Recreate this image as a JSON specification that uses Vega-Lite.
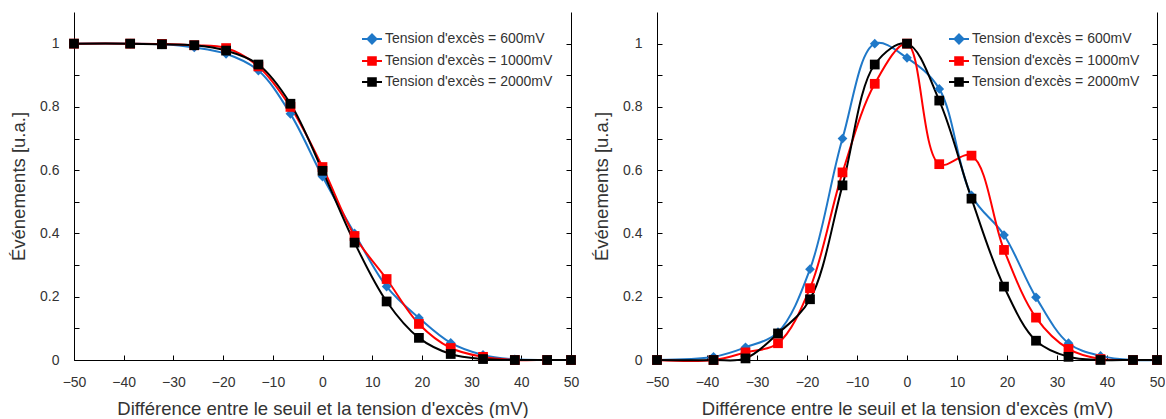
{
  "$schema": "https://vega.github.io/schema/vega-lite/v6.json",
  "padding": {"left": 9, "top": 12, "right": 0, "bottom": 0},
  "background": "white",
  "spacing": 13,
  "config": {
    "view": {"stroke": null},
    "font": "Liberation Sans",
    "axis": {"domainColor": "#000", "tickColor": "#000", "labelColor": "#333", "titleColor": "#333", "labelFontSize": 14, "titleFontSize": 18.5, "titleFontWeight": "normal", "grid": false, "domainWidth": 1, "tickWidth": 1},
    "legend": {"labelLimit": 400}
  },
  "datasets": {
    "left": [
      {"x": -50, "y": 1, "s": "Tension d'excès = 600mV"},
      {"x": -38.7, "y": 1, "s": "Tension d'excès = 600mV"},
      {"x": -32.3, "y": 0.998, "s": "Tension d'excès = 600mV"},
      {"x": -25.8, "y": 0.988, "s": "Tension d'excès = 600mV"},
      {"x": -19.4, "y": 0.968, "s": "Tension d'excès = 600mV"},
      {"x": -12.9, "y": 0.915, "s": "Tension d'excès = 600mV"},
      {"x": -6.45, "y": 0.778, "s": "Tension d'excès = 600mV"},
      {"x": 0, "y": 0.58, "s": "Tension d'excès = 600mV"},
      {"x": 6.45, "y": 0.40, "s": "Tension d'excès = 600mV"},
      {"x": 12.9, "y": 0.232, "s": "Tension d'excès = 600mV"},
      {"x": 19.4, "y": 0.133, "s": "Tension d'excès = 600mV"},
      {"x": 25.8, "y": 0.054, "s": "Tension d'excès = 600mV"},
      {"x": 32.3, "y": 0.016, "s": "Tension d'excès = 600mV"},
      {"x": 38.7, "y": 0.002, "s": "Tension d'excès = 600mV"},
      {"x": 45.2, "y": 0, "s": "Tension d'excès = 600mV"},
      {"x": 50, "y": 0, "s": "Tension d'excès = 600mV"},
      {"x": -50, "y": 1, "s": "Tension d'excès = 1000mV"},
      {"x": -38.7, "y": 1, "s": "Tension d'excès = 1000mV"},
      {"x": -32.3, "y": 0.999, "s": "Tension d'excès = 1000mV"},
      {"x": -25.8, "y": 0.995, "s": "Tension d'excès = 1000mV"},
      {"x": -19.4, "y": 0.986, "s": "Tension d'excès = 1000mV"},
      {"x": -12.9, "y": 0.928, "s": "Tension d'excès = 1000mV"},
      {"x": -6.45, "y": 0.80, "s": "Tension d'excès = 1000mV"},
      {"x": 0, "y": 0.61, "s": "Tension d'excès = 1000mV"},
      {"x": 6.45, "y": 0.392, "s": "Tension d'excès = 1000mV"},
      {"x": 12.9, "y": 0.256, "s": "Tension d'excès = 1000mV"},
      {"x": 19.4, "y": 0.114, "s": "Tension d'excès = 1000mV"},
      {"x": 25.8, "y": 0.038, "s": "Tension d'excès = 1000mV"},
      {"x": 32.3, "y": 0.01, "s": "Tension d'excès = 1000mV"},
      {"x": 38.7, "y": 0, "s": "Tension d'excès = 1000mV"},
      {"x": 45.2, "y": 0, "s": "Tension d'excès = 1000mV"},
      {"x": 50, "y": 0, "s": "Tension d'excès = 1000mV"},
      {"x": -50, "y": 1, "s": "Tension d'excès = 2000mV"},
      {"x": -38.7, "y": 1, "s": "Tension d'excès = 2000mV"},
      {"x": -32.3, "y": 0.998, "s": "Tension d'excès = 2000mV"},
      {"x": -25.8, "y": 0.995, "s": "Tension d'excès = 2000mV"},
      {"x": -19.4, "y": 0.978, "s": "Tension d'excès = 2000mV"},
      {"x": -12.9, "y": 0.934, "s": "Tension d'excès = 2000mV"},
      {"x": -6.45, "y": 0.81, "s": "Tension d'excès = 2000mV"},
      {"x": 0, "y": 0.598, "s": "Tension d'excès = 2000mV"},
      {"x": 6.45, "y": 0.371, "s": "Tension d'excès = 2000mV"},
      {"x": 12.9, "y": 0.185, "s": "Tension d'excès = 2000mV"},
      {"x": 19.4, "y": 0.07, "s": "Tension d'excès = 2000mV"},
      {"x": 25.8, "y": 0.019, "s": "Tension d'excès = 2000mV"},
      {"x": 32.3, "y": 0.003, "s": "Tension d'excès = 2000mV"},
      {"x": 38.7, "y": 0, "s": "Tension d'excès = 2000mV"},
      {"x": 45.2, "y": 0, "s": "Tension d'excès = 2000mV"},
      {"x": 50, "y": 0, "s": "Tension d'excès = 2000mV"}
    ],
    "right": [
      {"x": -50, "y": 0, "s": "Tension d'excès = 600mV"},
      {"x": -38.7, "y": 0.01, "s": "Tension d'excès = 600mV"},
      {"x": -32.3, "y": 0.04, "s": "Tension d'excès = 600mV"},
      {"x": -25.8, "y": 0.088, "s": "Tension d'excès = 600mV"},
      {"x": -19.4, "y": 0.287, "s": "Tension d'excès = 600mV"},
      {"x": -12.9, "y": 0.70, "s": "Tension d'excès = 600mV"},
      {"x": -6.45, "y": 1.0, "s": "Tension d'excès = 600mV"},
      {"x": 0, "y": 0.955, "s": "Tension d'excès = 600mV"},
      {"x": 6.45, "y": 0.857, "s": "Tension d'excès = 600mV"},
      {"x": 12.9, "y": 0.52, "s": "Tension d'excès = 600mV"},
      {"x": 19.4, "y": 0.395, "s": "Tension d'excès = 600mV"},
      {"x": 25.8, "y": 0.198, "s": "Tension d'excès = 600mV"},
      {"x": 32.3, "y": 0.053, "s": "Tension d'excès = 600mV"},
      {"x": 38.7, "y": 0.013, "s": "Tension d'excès = 600mV"},
      {"x": 45.2, "y": 0, "s": "Tension d'excès = 600mV"},
      {"x": 50, "y": 0, "s": "Tension d'excès = 600mV"},
      {"x": -50, "y": 0, "s": "Tension d'excès = 1000mV"},
      {"x": -38.7, "y": 0, "s": "Tension d'excès = 1000mV"},
      {"x": -32.3, "y": 0.024, "s": "Tension d'excès = 1000mV"},
      {"x": -25.8, "y": 0.053, "s": "Tension d'excès = 1000mV"},
      {"x": -19.4, "y": 0.227, "s": "Tension d'excès = 1000mV"},
      {"x": -12.9, "y": 0.593, "s": "Tension d'excès = 1000mV"},
      {"x": -6.45, "y": 0.873, "s": "Tension d'excès = 1000mV"},
      {"x": 0, "y": 1.0, "s": "Tension d'excès = 1000mV"},
      {"x": 6.45, "y": 0.619, "s": "Tension d'excès = 1000mV"},
      {"x": 12.9, "y": 0.646, "s": "Tension d'excès = 1000mV"},
      {"x": 19.4, "y": 0.348, "s": "Tension d'excès = 1000mV"},
      {"x": 25.8, "y": 0.134, "s": "Tension d'excès = 1000mV"},
      {"x": 32.3, "y": 0.035, "s": "Tension d'excès = 1000mV"},
      {"x": 38.7, "y": 0.003, "s": "Tension d'excès = 1000mV"},
      {"x": 45.2, "y": 0, "s": "Tension d'excès = 1000mV"},
      {"x": 50, "y": 0, "s": "Tension d'excès = 1000mV"},
      {"x": -50, "y": 0, "s": "Tension d'excès = 2000mV"},
      {"x": -38.7, "y": 0, "s": "Tension d'excès = 2000mV"},
      {"x": -32.3, "y": 0.005, "s": "Tension d'excès = 2000mV"},
      {"x": -25.8, "y": 0.084, "s": "Tension d'excès = 2000mV"},
      {"x": -19.4, "y": 0.192, "s": "Tension d'excès = 2000mV"},
      {"x": -12.9, "y": 0.552, "s": "Tension d'excès = 2000mV"},
      {"x": -6.45, "y": 0.934, "s": "Tension d'excès = 2000mV"},
      {"x": 0, "y": 1.0, "s": "Tension d'excès = 2000mV"},
      {"x": 6.45, "y": 0.82, "s": "Tension d'excès = 2000mV"},
      {"x": 12.9, "y": 0.51, "s": "Tension d'excès = 2000mV"},
      {"x": 19.4, "y": 0.232, "s": "Tension d'excès = 2000mV"},
      {"x": 25.8, "y": 0.061, "s": "Tension d'excès = 2000mV"},
      {"x": 32.3, "y": 0.01, "s": "Tension d'excès = 2000mV"},
      {"x": 38.7, "y": 0, "s": "Tension d'excès = 2000mV"},
      {"x": 45.2, "y": 0, "s": "Tension d'excès = 2000mV"},
      {"x": 50, "y": 0, "s": "Tension d'excès = 2000mV"}
    ]
  },
  "hconcat": [
    {
      "width": 497,
      "height": 348,
      "data": {"name": "left"},
      "resolve": {"scale": {"y": "independent", "shape": "independent"}, "legend": {"color": "independent", "shape": "independent", "fill": "independent", "stroke": "independent"}},
      "layer": [
        {
          "mark": {"type": "line", "interpolate": "catmull-rom", "strokeWidth": 2},
          "encoding": {
            "x": {"field": "x", "type": "quantitative", "scale": {"domain": [-50, 50], "nice": false}, "axis": {"title": "Différence entre le seuil et la tension d'excès (mV)", "values": [-50,-45,-40,-35,-30,-25,-20,-15,-10,-5,0,5,10,15,20,25,30,35,40,45,50], "labelExpr": "datum.value % 10 === 0 ? datum.label : ''", "tickSize": -5, "labelPadding": 20, "labelOverlap": false, "labelFlush": false, "titlePadding": 10}},
            "y": {"field": "y", "type": "quantitative", "scale": {"domain": [0, 1.1], "nice": false}, "axis": {"title": "Événements [u.a.]", "values": [0,0.1,0.2,0.3,0.4,0.5,0.6,0.7,0.8,0.9,1], "format": "~g", "labelExpr": "round(datum.value*10) % 2 === 0 ? datum.label : ''", "tickSize": -5, "labelPadding": 20, "labelOverlap": false, "titlePadding": 11}},
            "color": {"field": "s", "type": "nominal", "scale": {"domain": ["Tension d'excès = 600mV", "Tension d'excès = 1000mV", "Tension d'excès = 2000mV"], "range": ["#1F78C8", "#FF0000", "#000000"]}, "legend": null}
          }
        },
        {
          "mark": {"type": "point", "filled": true, "opacity": 1},
          "encoding": {
            "x": {"field": "x", "type": "quantitative", "scale": {"domain": [-50, 50], "nice": false}},
            "y": {"field": "y", "type": "quantitative", "scale": {"domain": [0, 1.1], "nice": false}, "axis": null},
            "color": {"field": "s", "type": "nominal", "scale": {"domain": ["Tension d'excès = 600mV", "Tension d'excès = 1000mV", "Tension d'excès = 2000mV"], "range": ["#1F78C8", "#FF0000", "#000000"]}, "legend": null},
            "shape": {"field": "s", "type": "nominal", "scale": {"domain": ["Tension d'excès = 600mV", "Tension d'excès = 1000mV", "Tension d'excès = 2000mV"], "range": ["diamond", "square", "square"]}, "legend": null},
            "size": {"value": 95}
          }
        },
        {
          "mark": {"type": "point", "filled": true, "opacity": 0, "strokeWidth": 2},
          "encoding": {
            "x": {"field": "x", "type": "quantitative", "scale": {"domain": [-50, 50], "nice": false}},
            "y": {"field": "y", "type": "quantitative", "scale": {"domain": [0, 1.1], "nice": false}, "axis": {"orient": "right", "title": null, "labels": false, "values": [0,0.1,0.2,0.3,0.4,0.5,0.6,0.7,0.8,0.9,1], "tickSize": -5}},
            "fill": {"field": "s", "type": "nominal", "scale": {"domain": ["Tension d'excès = 600mV", "Tension d'excès = 1000mV", "Tension d'excès = 2000mV"], "range": ["#1F78C8", "#FF0000", "#000000"]}, "legend": {"orient": "none", "legendX": 287, "legendY": 16, "title": null, "labelFontSize": 14, "labelColor": "#333", "symbolSize": 400, "symbolStrokeWidth": 2, "symbolOpacity": 1, "rowPadding": 2, "labelOffset": 2, "labelLimit": 400}},
            "stroke": {"field": "s", "type": "nominal", "scale": {"domain": ["Tension d'excès = 600mV", "Tension d'excès = 1000mV", "Tension d'excès = 2000mV"], "range": ["#1F78C8", "#FF0000", "#000000"]}, "legend": {"orient": "none", "legendX": 287, "legendY": 16, "title": null, "labelFontSize": 14, "labelColor": "#333", "symbolSize": 400, "symbolStrokeWidth": 2, "symbolOpacity": 1, "rowPadding": 2, "labelOffset": 2, "labelLimit": 400}},
            "shape": {"field": "s", "type": "nominal", "scale": {"domain": ["Tension d'excès = 600mV", "Tension d'excès = 1000mV", "Tension d'excès = 2000mV"], "range": ["M-1,0H1M0,-0.45L0.45,0L0,0.45L-0.45,0Z", "M-1,0H1M-0.38,-0.38H0.38V0.38H-0.38Z", "M-1,0H1M-0.38,-0.38H0.38V0.38H-0.38Z"]}, "legend": {"orient": "none", "legendX": 287, "legendY": 16, "title": null, "labelFontSize": 14, "labelColor": "#333", "symbolSize": 400, "symbolStrokeWidth": 2, "symbolOpacity": 1, "rowPadding": 2, "labelOffset": 2, "labelLimit": 400}}
          }
        }
      ]
    },
    {
      "width": 500,
      "height": 348,
      "data": {"name": "right"},
      "resolve": {"scale": {"y": "independent", "shape": "independent"}, "legend": {"color": "independent", "shape": "independent", "fill": "independent", "stroke": "independent"}},
      "layer": [
        {
          "mark": {"type": "line", "interpolate": "catmull-rom", "strokeWidth": 2},
          "encoding": {
            "x": {"field": "x", "type": "quantitative", "scale": {"domain": [-50, 50], "nice": false}, "axis": {"title": "Différence entre le seuil et la tension d'excès (mV)", "values": [-50,-45,-40,-35,-30,-25,-20,-15,-10,-5,0,5,10,15,20,25,30,35,40,45,50], "labelExpr": "datum.value % 10 === 0 ? datum.label : ''", "tickSize": -5, "labelPadding": 20, "labelOverlap": false, "labelFlush": false, "titlePadding": 10}},
            "y": {"field": "y", "type": "quantitative", "scale": {"domain": [0, 1.1], "nice": false}, "axis": {"title": "Événements [u.a.]", "values": [0,0.1,0.2,0.3,0.4,0.5,0.6,0.7,0.8,0.9,1], "format": "~g", "labelExpr": "round(datum.value*10) % 2 === 0 ? datum.label : ''", "tickSize": -5, "labelPadding": 20, "labelOverlap": false, "titlePadding": 11}},
            "color": {"field": "s", "type": "nominal", "scale": {"domain": ["Tension d'excès = 600mV", "Tension d'excès = 1000mV", "Tension d'excès = 2000mV"], "range": ["#1F78C8", "#FF0000", "#000000"]}, "legend": null}
          }
        },
        {
          "mark": {"type": "point", "filled": true, "opacity": 1},
          "encoding": {
            "x": {"field": "x", "type": "quantitative", "scale": {"domain": [-50, 50], "nice": false}},
            "y": {"field": "y", "type": "quantitative", "scale": {"domain": [0, 1.1], "nice": false}, "axis": null},
            "color": {"field": "s", "type": "nominal", "scale": {"domain": ["Tension d'excès = 600mV", "Tension d'excès = 1000mV", "Tension d'excès = 2000mV"], "range": ["#1F78C8", "#FF0000", "#000000"]}, "legend": null},
            "shape": {"field": "s", "type": "nominal", "scale": {"domain": ["Tension d'excès = 600mV", "Tension d'excès = 1000mV", "Tension d'excès = 2000mV"], "range": ["diamond", "square", "square"]}, "legend": null},
            "size": {"value": 95}
          }
        },
        {
          "mark": {"type": "point", "filled": true, "opacity": 0, "strokeWidth": 2},
          "encoding": {
            "x": {"field": "x", "type": "quantitative", "scale": {"domain": [-50, 50], "nice": false}},
            "y": {"field": "y", "type": "quantitative", "scale": {"domain": [0, 1.1], "nice": false}, "axis": {"orient": "right", "title": null, "labels": false, "values": [0,0.1,0.2,0.3,0.4,0.5,0.6,0.7,0.8,0.9,1], "tickSize": -5}},
            "fill": {"field": "s", "type": "nominal", "scale": {"domain": ["Tension d'excès = 600mV", "Tension d'excès = 1000mV", "Tension d'excès = 2000mV"], "range": ["#1F78C8", "#FF0000", "#000000"]}, "legend": {"orient": "none", "legendX": 291, "legendY": 16, "title": null, "labelFontSize": 14, "labelColor": "#333", "symbolSize": 400, "symbolStrokeWidth": 2, "symbolOpacity": 1, "rowPadding": 2, "labelOffset": 2, "labelLimit": 400}},
            "stroke": {"field": "s", "type": "nominal", "scale": {"domain": ["Tension d'excès = 600mV", "Tension d'excès = 1000mV", "Tension d'excès = 2000mV"], "range": ["#1F78C8", "#FF0000", "#000000"]}, "legend": {"orient": "none", "legendX": 291, "legendY": 16, "title": null, "labelFontSize": 14, "labelColor": "#333", "symbolSize": 400, "symbolStrokeWidth": 2, "symbolOpacity": 1, "rowPadding": 2, "labelOffset": 2, "labelLimit": 400}},
            "shape": {"field": "s", "type": "nominal", "scale": {"domain": ["Tension d'excès = 600mV", "Tension d'excès = 1000mV", "Tension d'excès = 2000mV"], "range": ["M-1,0H1M0,-0.45L0.45,0L0,0.45L-0.45,0Z", "M-1,0H1M-0.38,-0.38H0.38V0.38H-0.38Z", "M-1,0H1M-0.38,-0.38H0.38V0.38H-0.38Z"]}, "legend": {"orient": "none", "legendX": 291, "legendY": 16, "title": null, "labelFontSize": 14, "labelColor": "#333", "symbolSize": 400, "symbolStrokeWidth": 2, "symbolOpacity": 1, "rowPadding": 2, "labelOffset": 2, "labelLimit": 400}}
          }
        }
      ]
    }
  ]
}
